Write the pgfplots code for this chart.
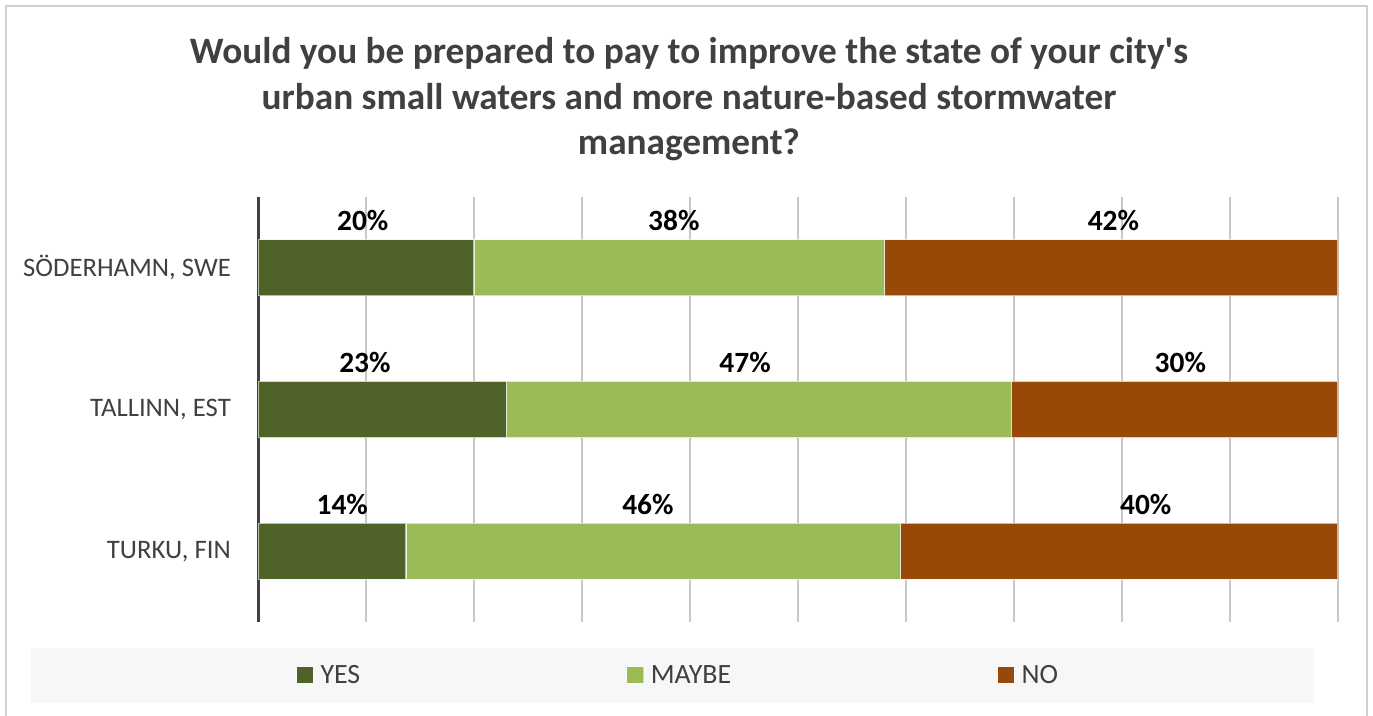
\documentclass[border=0pt]{standalone}
\usepackage{pgfplots}
\pgfplotsset{compat=1.18}
\usepackage{fontspec}
\setmainfont{Carlito}
\definecolor{yescol}{HTML}{4F6228}
\definecolor{maybecol}{HTML}{9BBB59}
\definecolor{nocol}{HTML}{984807}
\definecolor{txtgray}{HTML}{404040}
\definecolor{gridgray}{HTML}{C8C8C8}
\definecolor{framegray}{HTML}{D0D0D0}
\definecolor{legbg}{HTML}{F7F7F7}
\pgfplotsset{mysq/.style={fill=#1, draw=white, draw opacity=0.6, line width=1.2bp,
  legend image code/.code={\draw[fill=#1, draw=white, draw opacity=0.5, line width=1.2bp] (0bp,-8.35bp) rectangle (16.7bp,8.35bp);}}}
\begin{document}
\begin{tikzpicture}[x=1bp,y=1bp]
\useasboundingbox (0,0) rectangle (1373,715);
\draw[framegray, line width=2bp] (6,-20) -- (6,709) -- (1367,709) -- (1367,-20);
\fill[legbg] (31,12) rectangle (1314,67);
\node[anchor=north, align=center, font=\fontsize{37.4}{46}\selectfont\bfseries, text=txtgray, inner sep=0pt] at (689,678)
  {Would you be prepared to pay to improve the state of your city\textquotesingle s\\urban small waters and more nature-based stormwater\\management?};
\begin{axis}[
  at={(258bp,93bp)}, anchor=south west,
  width=1080bp, height=425bp, scale only axis,
  xbar stacked, bar width=56bp,
  xmin=0, xmax=100, ymin=-0.5, ymax=2.5, y dir=reverse,
  ytick={0,1,2},
  yticklabels={{SÖDERHAMN, SWE},{TALLINN, EST},{TURKU, FIN}},
  yticklabel style={font=\fontsize{26.8}{30}\selectfont, text=txtgray, inner sep=0pt, xshift=-27bp},
  xtick={0,10,...,100}, xticklabels={},
  xmajorgrids, major grid style={gridgray, line width=1.3bp},
  major tick length=0pt,
  axis y line*=left, axis x line*=bottom,
  x axis line style={draw=none},
  y axis line style={txtgray, line width=3bp},
  legend columns=3,
  legend cell align=left,
  legend style={at={(0.0352,-0.1247)}, anchor=west, draw=none, fill=none, inner sep=0pt, outer sep=0pt,
    font=\fontsize{28}{32}\selectfont, text=txtgray, nodes={inner sep=0pt},
    /tikz/every even column/.append style={column sep=266bp},
    /tikz/every odd column/.append style={column sep=6.6bp}},
]
\addplot[mysq=yescol] coordinates {(20,0) (23,1) (13.7,2)};
\addplot[mysq=maybecol] coordinates {(38,0) (46.8,1) (45.8,2)};
\addplot[mysq=nocol] coordinates {(42,0) (30.2,1) (40.5,2)};
\legend{YES, MAYBE, NO}
\end{axis}
\begin{axis}[
  at={(258bp,93bp)}, anchor=south west,
  width=1080bp, height=425bp, scale only axis,
  xmin=0, xmax=100, ymin=-0.5, ymax=2.5, y dir=reverse, hide axis]
\addplot[only marks, mark=*, mark size=0pt, draw=none, fill=none,
  nodes near coords, point meta=explicit symbolic,
  every node near coord/.append style={anchor=base, yshift=37bp, font=\fontsize{29.5}{32}\selectfont\bfseries, text=black, inner sep=0pt}]
  coordinates {(9.7,0) [20\%] (38.5,0) [38\%] (79.2,0) [42\%]
               (9.9,1) [23\%] (45.1,1) [47\%] (85.4,1) [30\%]
               (7.8,2) [14\%] (36.1,2) [46\%] (82.2,2) [40\%]};
\end{axis}
\end{tikzpicture}
\end{document}
